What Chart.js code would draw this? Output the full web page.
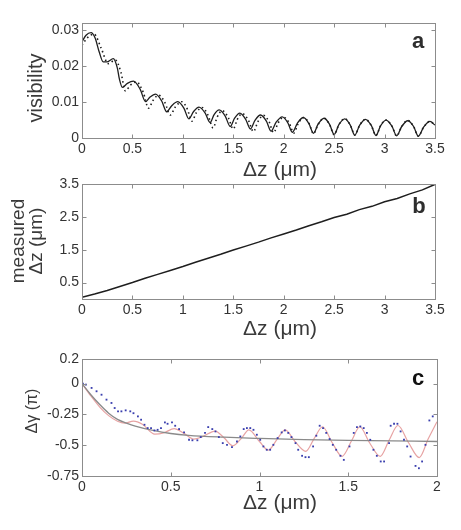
<!DOCTYPE html>
<html>
<head>
<meta charset="utf-8">
<title>Visibility and phase vs. Δz</title>
<script src="https://cdn.jsdelivr.net/npm/chart.js@4.4.1/dist/chart.umd.min.js"></script>
<style>
    html, body { margin: 0; padding: 0; background: #ffffff; }
    #figure { position: relative; width: 461px; height: 530px; overflow: hidden; font-family: 'Liberation Sans', Arial, Helvetica, sans-serif; }
    #figure canvas { position: absolute; left: 0; top: 0; }
    .lbl { position: absolute; white-space: nowrap; color: #3a3a3a; line-height: 1; transform: translate(-50%, -50%); }
    .rot { transform: translate(-50%, -50%) rotate(-90deg); text-align: center; }
    .letter { font-weight: bold; font-size: 22px; color: #2e2e2e; }
</style>
</head>
<body>
<div id="figure">
    <canvas id="chartA" width="461" height="530"></canvas>
    <canvas id="chartB" width="461" height="530"></canvas>
    <canvas id="chartC" width="461" height="530"></canvas>

    <div class="lbl rot" style="left:35px; top:88px; font-size:20px;">visibility</div>
    <div class="lbl" style="left:280px; top:168px; font-size:21px;">Δz (μm)</div>
    <div class="lbl letter" style="left:418px; top:41px;">a</div>

    <div class="lbl rot" style="left:27px; top:241px; font-size:19px; line-height:18px;">measured<br>Δz (μm)</div>
    <div class="lbl" style="left:280px; top:327px; font-size:21px;">Δz (μm)</div>
    <div class="lbl letter" style="left:419px; top:206px;">b</div>

    <div class="lbl rot" style="left:32px; top:411px; font-size:16px;">Δγ (π)</div>
    <div class="lbl" style="left:280px; top:501px; font-size:21px;">Δz (μm)</div>
    <div class="lbl letter" style="left:418px; top:378px; color:#111;">c</div>
</div>

<script>
// ---- Panel a: fringe visibility vs. Δz ----
const visTicksX = [0, 0.5, 1, 1.5, 2, 2.5, 3, 3.5];
const visTicksY = [0, 0.01, 0.02, 0.03];

// measured (solid line)
const visSolidX = [0, 0.04, 0.09, 0.13, 0.17, 0.21, 0.25, 0.31, 0.35, 0.37, 0.40, 0.45, 0.51, 0.576, 0.63, 0.675, 0.73, 0.79, 0.84, 0.89, 0.95,
    1.01, 1.06, 1.105, 1.16, 1.22, 1.27, 1.31, 1.36, 1.42, 1.47, 1.513, 1.565, 1.623, 1.67, 1.715, 1.77, 1.828, 1.875, 1.925, 1.985,
    2.04, 2.085, 2.135, 2.195, 2.25, 2.295, 2.342, 2.40, 2.455, 2.50, 2.547, 2.605, 2.66, 2.705, 2.752, 2.81, 2.868, 2.915, 2.96, 3.015,
    3.073, 3.12, 3.17, 3.23, 3.288, 3.335, 3.387, 3.45, 3.5];
const visSolidY = [0.0268, 0.0286, 0.0293, 0.0278, 0.0240, 0.0212, 0.0212, 0.0221, 0.0195, 0.0165, 0.0141, 0.0152, 0.0158, 0.0136, 0.0101, 0.0114, 0.0122, 0.0103, 0.0073, 0.0090, 0.0101,
    0.0083, 0.0053, 0.0073, 0.0086, 0.0070, 0.0043, 0.0065, 0.0078, 0.0061, 0.0032, 0.0055, 0.0069, 0.0052, 0.0025, 0.0049, 0.0064, 0.0047, 0.0019, 0.0044, 0.0059,
    0.0043, 0.0016, 0.0041, 0.0057, 0.0040, 0.0013, 0.0039, 0.0055, 0.0038, 0.0010, 0.0037, 0.0053, 0.0036, 0.0008, 0.0035, 0.0052, 0.0035, 0.0007, 0.0034, 0.0050,
    0.0033, 0.0006, 0.0032, 0.0048, 0.0032, 0.0005, 0.0030, 0.0046, 0.0036];

// model (dotted line)
const visDotX = [0, 0.05, 0.12, 0.19, 0.26, 0.33, 0.385, 0.43, 0.48, 0.54, 0.606, 0.66, 0.705, 0.76, 0.823, 0.875, 0.927, 0.99,
    1.045, 1.09, 1.135, 1.19, 1.25, 1.30, 1.34, 1.39, 1.45, 1.50, 1.54, 1.59, 1.65, 1.70, 1.745, 1.80, 1.855, 1.90, 1.945, 2.0,
    2.055, 2.10, 2.145, 2.20, 2.252, 2.295, 2.342, 2.40, 2.455, 2.50, 2.547, 2.605, 2.66, 2.705, 2.752, 2.81, 2.868, 2.915, 2.96, 3.015,
    3.073, 3.12, 3.17, 3.23, 3.288, 3.335, 3.387, 3.45, 3.5];
const visDotY = [0.0258, 0.0278, 0.0289, 0.0250, 0.0207, 0.0217, 0.0184, 0.0131, 0.0147, 0.0156, 0.0128, 0.0083, 0.0105, 0.0119, 0.0098, 0.0064, 0.0087, 0.0101,
    0.0080, 0.0047, 0.0071, 0.0085, 0.0063, 0.0028, 0.0058, 0.0076, 0.0057, 0.0025, 0.0052, 0.0068, 0.0049, 0.0018, 0.0046, 0.0063, 0.0045, 0.0015, 0.0042, 0.0058,
    0.0041, 0.0014, 0.0041, 0.0057, 0.0040, 0.0012, 0.0038, 0.0055, 0.0037, 0.0009, 0.0037, 0.0054, 0.0036, 0.0008, 0.0035, 0.0052, 0.0035, 0.0007, 0.0034, 0.0050,
    0.0033, 0.0006, 0.0032, 0.0049, 0.0032, 0.0005, 0.0030, 0.0046, 0.0036];

// ---- Panel b: measured Δz vs. set Δz ----
const measTicksX = [0, 0.5, 1, 1.5, 2, 2.5, 3, 3.5];
const measTicksY = [0.5, 1.5, 2.5, 3.5];
const measX = [0, 0.125, 0.25, 0.375, 0.5, 0.625, 0.75, 0.875, 1, 1.125, 1.25, 1.375, 1.5, 1.625, 1.75,
    1.875, 2, 2.125, 2.25, 2.375, 2.5, 2.625, 2.75, 2.875, 3, 3.125, 3.25, 3.375, 3.5];
const measY = [0.05, 0.15, 0.26, 0.38, 0.50, 0.63, 0.75, 0.87, 0.99, 1.12, 1.24, 1.36, 1.49, 1.61, 1.73,
    1.86, 1.98, 2.10, 2.23, 2.35, 2.48, 2.58, 2.72, 2.82, 2.96, 3.06, 3.20, 3.32, 3.49];

// ---- Panel c: phase shift Δγ (in units of π) ----
const phaseTicksX = [0, 0.5, 1, 1.5, 2];
const phaseTicksY = [-0.75, -0.5, -0.25, 0, 0.2];

// smooth trend (grey)
const trendX = [0, 0.05, 0.1, 0.15, 0.2, 0.25, 0.3, 0.4, 0.5, 0.6, 0.8, 1.0, 1.25, 1.5, 1.75, 2.0];
const trendY = [0, -0.09, -0.17, -0.24, -0.29, -0.32, -0.345, -0.38, -0.405, -0.42, -0.435, -0.445, -0.455, -0.46, -0.465, -0.47];

// oscillating fit (pink)
const fitX = [0, 0.05, 0.1, 0.15, 0.2, 0.24, 0.29, 0.34, 0.41, 0.46, 0.52, 0.57, 0.63, 0.68, 0.75, 0.80, 0.85, 0.90, 0.94, 1.0,
    1.05, 1.10, 1.145, 1.20, 1.26, 1.31, 1.355, 1.41, 1.465, 1.52, 1.565, 1.62, 1.68, 1.73, 1.78, 1.84, 1.90, 1.95, 2.0];
const fitY = [0, -0.10, -0.19, -0.26, -0.305, -0.32, -0.305, -0.33, -0.41, -0.40, -0.365, -0.40, -0.45, -0.43, -0.385, -0.44, -0.505, -0.44, -0.375, -0.47,
    -0.54, -0.45, -0.375, -0.47, -0.55, -0.44, -0.35, -0.48, -0.59, -0.46, -0.35, -0.48, -0.59, -0.46, -0.34, -0.48, -0.60, -0.45, -0.31];

// measured points (blue dots)
const phaseX = [0.005, 0.022, 0.054, 0.082, 0.11, 0.138, 0.166, 0.184, 0.203, 0.222, 0.246, 0.272, 0.29, 0.315, 0.333, 0.352, 0.37, 0.389,
    0.408, 0.426, 0.445, 0.467, 0.482, 0.507, 0.525, 0.547, 0.575, 0.603, 0.622, 0.65, 0.669, 0.693, 0.711, 0.734, 0.752, 0.771,
    0.793, 0.817, 0.845, 0.873, 0.892, 0.911, 0.929, 0.948, 0.966, 0.985, 1.004, 1.022, 1.041, 1.06, 1.078, 1.102, 1.125, 1.143,
    1.162, 1.18, 1.203, 1.218, 1.24, 1.259, 1.278, 1.302, 1.32, 1.339, 1.358, 1.376, 1.395, 1.413, 1.432, 1.456, 1.475, 1.507,
    1.531, 1.549, 1.568, 1.587, 1.605, 1.624, 1.642, 1.661, 1.683, 1.702, 1.73, 1.739, 1.758, 1.777, 1.795, 1.814, 1.832, 1.851,
    1.879, 1.898, 1.916, 1.935, 1.957, 1.976];
const phaseY = [0.0, -0.008, -0.035, -0.062, -0.09, -0.13, -0.157, -0.198, -0.225, -0.225, -0.217, -0.225, -0.24, -0.266, -0.293, -0.334, -0.361, -0.361,
    -0.38, -0.375, -0.361, -0.315, -0.326, -0.315, -0.342, -0.369, -0.396, -0.456, -0.46, -0.46, -0.434, -0.40, -0.353, -0.369, -0.388, -0.434,
    -0.483, -0.497, -0.516, -0.47, -0.429, -0.369, -0.361, -0.361, -0.375, -0.415, -0.456, -0.51, -0.537, -0.537, -0.497, -0.442, -0.396, -0.38,
    -0.40, -0.434, -0.483, -0.537, -0.586, -0.597, -0.597, -0.51, -0.423, -0.342, -0.361, -0.40, -0.45, -0.497, -0.537, -0.586, -0.619, -0.51,
    -0.40, -0.353, -0.348, -0.361, -0.40, -0.456, -0.537, -0.586, -0.632, -0.632, -0.483, -0.342, -0.326, -0.326, -0.388, -0.456, -0.51, -0.592,
    -0.668, -0.687, -0.632, -0.497, -0.299, -0.266];

const FONT_FAMILY = "'Liberation Sans', Arial, Helvetica, sans-serif";

/**
 * Draws the Matlab-like box around the plot area with inward tick marks on all four sides
 */
const frameTicksPlugin = {
    id: 'frameTicks',
    afterDatasetsDraw: function(chart) {
        const ctx = chart.ctx;
        const area = chart.chartArea;
        const xs = chart.scales.x;
        const ys = chart.scales.y;
        const left = Math.round(area.left) + 0.5;
        const right = Math.round(area.right) + 0.5;
        const top = Math.round(area.top) + 0.5;
        const bottom = Math.round(area.bottom) + 0.5;

        ctx.save();
        ctx.strokeStyle = '#8c8c8c';
        ctx.lineWidth = 1;
        ctx.strokeRect(left, top, right - left, bottom - top);

        ctx.beginPath();
        xs.ticks.forEach(function(t) {
            const px = Math.round(xs.getPixelForValue(t.value)) + 0.5;
            ctx.moveTo(px, bottom);
            ctx.lineTo(px, bottom - 4);
            ctx.moveTo(px, top);
            ctx.lineTo(px, top + 4);
        });
        ys.ticks.forEach(function(t) {
            const py = Math.round(ys.getPixelForValue(t.value)) + 0.5;
            ctx.moveTo(left, py);
            ctx.lineTo(left + 4, py);
            ctx.moveTo(right, py);
            ctx.lineTo(right - 4, py);
        });
        ctx.stroke();
        ctx.restore();
    }
};

const FigureCharts = {
    /**
     * Builds the three panels
     */
    init: function() {
        this.initVisibility();
        this.initMeasured();
        this.initPhase();
    },

    /**
     * Pairs two arrays into {x, y} points
     */
    points: function(xs, ys) {
        return xs.map(function(x, i) { return { x: x, y: ys[i] }; });
    },

    /**
     * Linear axis with fixed ticks taken from a list
     */
    axis: function(position, min, max, tickList, size, padding) {
        return {
            type: 'linear',
            position: position,
            min: min,
            max: max,
            afterBuildTicks: function(scale) {
                scale.ticks = tickList.map(function(v) { return { value: v }; });
            },
            afterFit: function(scale) {
                if (position === 'left') {
                    scale.width = size;
                } else {
                    scale.height = size;
                }
            },
            // no outward tick marks: the plugin draws them inward
            grid: { display: false, drawTicks: false, tickLength: 0 },
            border: { display: false },
            ticks: {
                autoSkip: false,
                maxRotation: 0,
                padding: padding,
                color: '#333333',
                font: { family: FONT_FAMILY, size: 14 },
                callback: function(value) { return String(value); }
            }
        };
    },

    /**
     * Shared chart options; the padding fixes where the plot box sits on the page
     */
    options: function(padding, xAxis, yAxis) {
        return {
            responsive: false,
            animation: false,
            layout: { padding: padding },
            plugins: {
                legend: { display: false },
                tooltip: { enabled: false }
            },
            elements: { point: { radius: 0 } },
            scales: { x: xAxis, y: yAxis }
        };
    },

    initVisibility: function() {
        new Chart(document.getElementById('chartA'), {
            type: 'line',
            data: {
                datasets: [
                    {
                        data: this.points(visSolidX, visSolidY),
                        borderColor: '#1e1e1e',
                        borderWidth: 1.3,
                        cubicInterpolationMode: 'monotone'
                    },
                    {
                        data: this.points(visDotX, visDotY),
                        borderColor: '#1e1e1e',
                        borderWidth: 1.6,
                        borderDash: [1.5, 3],
                        cubicInterpolationMode: 'monotone'
                    }
                ]
            },
            options: this.options(
                { top: 23, right: 26, bottom: 350, left: 0 },
                this.axis('bottom', 0, 3.5, visTicksX, 42, 3),
                this.axis('left', 0, 0.032, visTicksY, 82, 3)
            ),
            plugins: [frameTicksPlugin]
        });
    },

    initMeasured: function() {
        new Chart(document.getElementById('chartB'), {
            type: 'line',
            data: {
                datasets: [
                    {
                        data: this.points(measX, measY),
                        borderColor: '#1e1e1e',
                        borderWidth: 1.5,
                        tension: 0
                    }
                ]
            },
            options: this.options(
                { top: 184, right: 26, bottom: 189, left: 0 },
                this.axis('bottom', 0, 3.5, measTicksX, 42, 3),
                this.axis('left', 0, 3.5, measTicksY, 82, 3)
            ),
            plugins: [frameTicksPlugin]
        });
    },

    initPhase: function() {
        new Chart(document.getElementById('chartC'), {
            type: 'line',
            data: {
                datasets: [
                    {
                        data: this.points(phaseX, phaseY),
                        showLine: false,
                        pointRadius: 1.3,
                        pointStyle: 'rect',
                        pointBorderWidth: 0,
                        pointBackgroundColor: '#3a3fae'
                    },
                    {
                        data: this.points(trendX, trendY),
                        borderColor: '#8a8a8a',
                        borderWidth: 1.3,
                        cubicInterpolationMode: 'monotone'
                    },
                    {
                        data: this.points(fitX, fitY),
                        borderColor: '#e7a3a3',
                        borderWidth: 1.2,
                        cubicInterpolationMode: 'monotone'
                    }
                ]
            },
            options: this.options(
                { top: 359, right: 24, bottom: 12, left: 0 },
                this.axis('bottom', 0, 2, phaseTicksX, 42, 3),
                this.axis('left', -0.75, 0.2, phaseTicksY, 82, 3)
            ),
            plugins: [frameTicksPlugin]
        });
    }
};

document.addEventListener('DOMContentLoaded', function() {
    FigureCharts.init();
});
</script>
</body>
</html>
